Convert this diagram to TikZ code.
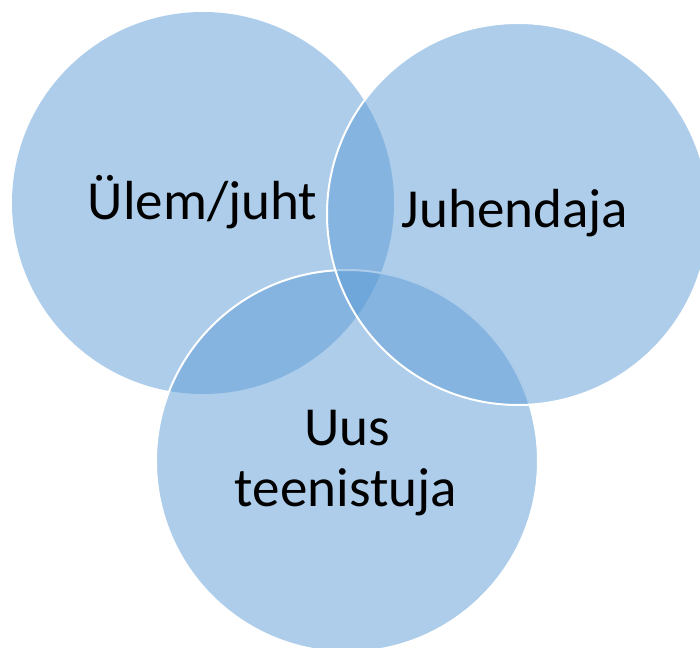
\documentclass[tikz,border=0pt]{standalone}
\usepackage{fontspec}
\setmainfont{Carlito}
\definecolor{vennblue}{HTML}{5B9BD5}
\begin{document}
\begin{tikzpicture}[x=0.75pt,y=-0.75pt,
  venn/.style={circle, minimum size=286.5pt, inner sep=0pt, fill=vennblue, fill opacity=0.5},
  vennline/.style={venn, draw=white, draw opacity=1, line width=1.5pt},
  lbl/.style={anchor=base, font=\fontsize{41.3}{46}\selectfont, text=black, inner sep=0pt}]
\useasboundingbox (0,0) rectangle (700,648);
\node[venn] (c1) at (203,203) {};
\node[vennline] (c3) at (347,461) {};
\node[vennline] (c2) at (518,214) {};
\node[lbl] (t1) at (202.5,220) {Ülem/juht};
\node[lbl] (t2) at (515,228) {Juhendaja};
\node[lbl] (t3a) at (347.5,446) {Uus};
\node[lbl] (t3b) at (346,507) {teenistuja};
\end{tikzpicture}
\end{document}
